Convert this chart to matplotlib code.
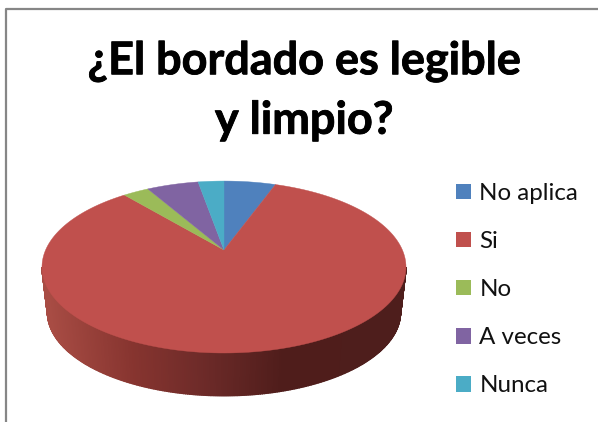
import matplotlib
matplotlib.use("Agg")
import matplotlib.pyplot as plt
import matplotlib.patheffects as pe
import numpy as np
from matplotlib.patches import Patch

plt.rcParams["font.family"] = ["Lato", "DejaVu Sans"]

# ── Data ─────────────────────────────────────────────────────────────────────
labels = ["No aplica", "Si", "No", "A veces", "Nunca"]
counts = [2, 30, 1, 2, 1]
colors = ["#4f81bd", "#c0504d", "#9bbb59", "#8064a2", "#4bacc6"]
title = "¿El bordado es legible\ny limpio?"

# shading along the front wall of the pie, left to right
wall_colors = ["#a84c44", "#86342f", "#6e2b29", "#4f1d1b", "#4e1e1c"]
wall_stops = [47, 133, 200, 283, 400]

K = 0.198


def hex2rgb(c):
    return np.array([int(c[i:i + 2], 16) for i in (1, 3, 5)]) / 255


def project(theta, cy, a, b):
    # theta clockwise from the back of the pie, fake perspective like Excel 3D
    u, v = np.sin(theta), np.cos(theta)
    return 224 + a * u / (1 + K * v), cy - b * v / (1 + K * v)


fig = plt.figure(figsize=(5.98, 4.22), dpi=100)
ax = fig.add_axes([0, 0, 1, 1])
ax.set_xlim(0, 598)
ax.set_ylim(422, 0)
ax.axis("off")

# chart frame, cut off on the right and at the bottom
ax.plot([5.5, 5.5, 598], [422, 8.5, 8.5], color="#868686", lw=1.6, solid_capstyle="butt")

# front wall first, as thin strips
start = np.arccos(-K)
front = np.linspace(start, 2 * np.pi - start, 300)
xt, yt = project(front, 250, 178.4, 82.6)
xb, yb = project(front, 296, 173, 80)
for i in range(len(front) - 1):
    xmid = (xt[i] + xt[i + 1]) / 2
    rgb = [np.interp(xmid, wall_stops, [hex2rgb(c)[j] for c in wall_colors]) for j in range(3)]
    ax.fill([xt[i], xt[i + 1], xb[i + 1], xb[i]], [yt[i], yt[i + 1], yb[i + 1], yb[i]],
            color=rgb, lw=1.0, zorder=2)

# top face
edges = np.cumsum([0] + counts) / sum(counts) * 2 * np.pi
for i, color in enumerate(colors):
    th = np.linspace(edges[i], edges[i + 1], 200)
    x, y = project(th, 250, 178.4, 82.6)
    ax.fill(np.r_[224, x], np.r_[250, y], color=color, lw=0.3, zorder=3)

ax.text(304, 91, title, ha="center", va="center", fontsize=32.4, fontweight="bold",
        color="black", linespacing=1.5,
        path_effects=[pe.withStroke(linewidth=0.6, foreground="black")])

handles = [Patch(facecolor=c, edgecolor="none") for c in colors]
ax.legend(handles, labels, loc="upper left", bbox_to_anchor=(456 / 598, 1 - 183 / 422),
          bbox_transform=fig.transFigure, frameon=False, fontsize=17.4, labelcolor="#111111",
          handlelength=0.62, handleheight=0.62, handletextpad=0.35, labelspacing=1.12,
          borderpad=0, borderaxespad=0)

fig.savefig("out.png", dpi=100)
